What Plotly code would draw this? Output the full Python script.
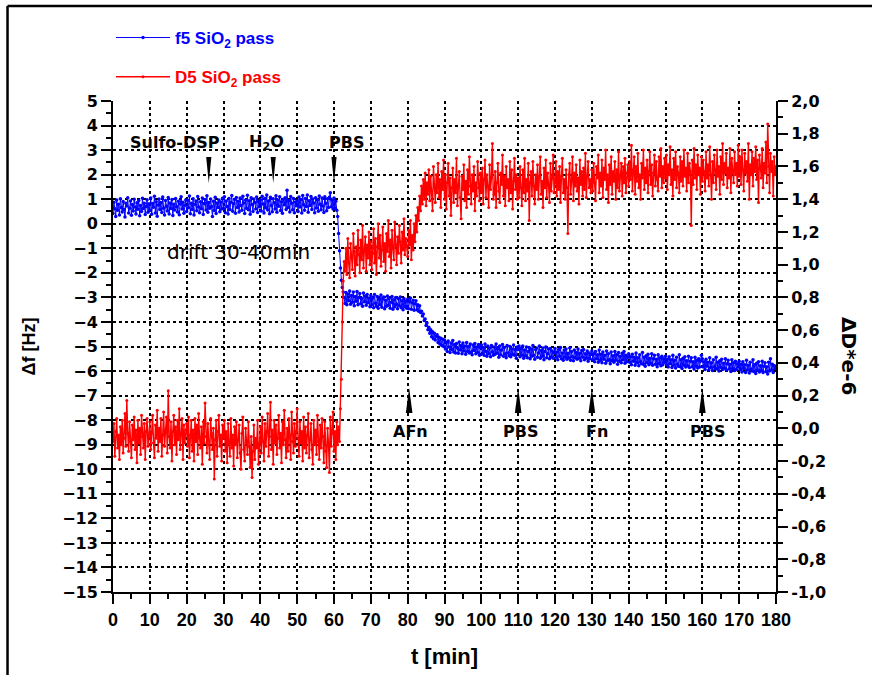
import plotly.graph_objects as go

# ---------------- data ----------------
TIME_STEP_MIN = 0.25  # sampling step of the values below [min]

# f5 SiO2 pass : frequency shift [Hz] (left axis)
F5_HZ = [
    # 0 - 10 min
    0.42, 0.88, 0.61, 0.30, 0.97, 0.55, 0.79, 0.36, 1.02, 0.66, 0.48, 0.91, 0.58, 0.27, 0.84, 0.72, 1.06, 0.44, 0.63, 0.93,
    0.35, 0.78, 0.52, 1.00, 0.68, 0.40, 0.86, 0.59, 0.95, 0.33, 0.74, 0.50, 1.04, 0.62, 0.83, 0.38, 0.70, 0.98, 0.47, 0.81,
    # 10 - 20
    0.55, 1.05, 0.39, 0.82, 0.67, 1.12, 0.44, 0.90, 0.31, 0.76, 1.01, 0.58, 0.87, 0.46, 1.09, 0.63, 0.36, 0.95, 0.71, 0.52,
    1.07, 0.40, 0.85, 0.62, 0.99, 0.34, 0.79, 0.56, 1.03, 0.69, 0.48, 0.92, 0.37, 0.80, 1.10, 0.60, 0.88, 0.43, 0.75, 0.97,
    # 20 - 30
    0.50, 0.96, 0.65, 1.13, 0.41, 0.84, 0.58, 1.02, 0.36, 0.79, 0.93, 0.53, 1.11, 0.68, 0.45, 0.90, 0.61, 1.05, 0.38, 0.82,
    0.99, 0.56, 1.14, 0.47, 0.87, 0.63, 1.01, 0.70, 0.30, 0.92, 0.54, 1.08, 0.42, 0.85, 0.66, 0.97, 0.49, 0.89, 0.60, 1.04,
    # 30 - 40
    0.62, 1.10, 0.45, 0.93, 0.70, 0.40, 1.03, 0.58, 0.88, 1.15, 0.51, 0.82, 0.99, 0.43, 1.07, 0.66, 0.92, 0.48, 1.05, 0.74,
    0.55, 1.12, 0.85, 0.42, 0.97, 0.63, 1.16, 0.57, 0.94, 0.39, 1.06, 0.78, 0.50, 1.01, 0.87, 0.60, 1.09, 0.46, 0.91, 0.69,
    # 40 - 50
    0.98, 0.52, 1.12, 0.80, 0.44, 1.04, 0.65, 1.17, 0.56, 0.93, 0.41, 1.08, 0.74, 0.49, 1.02, 0.86, 0.60, 1.14, 0.47, 0.97,
    0.71, 1.10, 0.54, 0.90, 0.43, 1.00, 0.77, 1.06, 0.58, 1.36, 0.66, 0.95, 0.48, 1.11, 0.83, 0.57, 1.03, 0.45, 0.89, 0.73,
    # 50 - 60
    0.93, 0.50, 1.09, 0.68, 0.99, 0.44, 1.15, 0.77, 0.55, 1.03, 0.70, 1.17, 0.47, 0.94, 0.74, 1.11, 0.58, 1.01, 0.85, 0.45,
    1.06, 0.64, 0.97, 0.51, 1.13, 0.79, 0.57, 1.05, 0.72, 0.46, 1.10, 0.84, 0.53, 1.02, 0.66, 1.08, 1.26, 0.69, 0.96, 0.60,
    # 60 - 70
    1.05, 0.63, 0.92, 0.55, 0.30, -0.40, -1.10, -1.80, -2.30, -2.60, -2.78, -3.00, -3.25, -2.80, -3.30, -2.86, -3.14, -2.74, -3.28, -2.92,
    -3.20, -2.78, -3.34, -2.96, -3.16, -2.76, -3.30, -3.00, -2.84, -3.26, -3.04, -3.36, -2.82, -3.18, -2.94, -3.32, -2.88, -3.22, -3.02, -3.38,
    # 70 - 80
    -2.92, -3.30, -3.02, -3.42, -2.88, -3.24, -3.36, -2.96, -3.44, -3.08, -3.30, -2.90, -3.40, -3.06, -2.98, -3.46, -3.12, -3.36, -2.94, -3.32,
    -3.04, -3.44, -3.20, -2.96, -3.48, -3.10, -3.38, -3.00, -3.28, -3.46, -3.06, -3.34, -2.98, -3.42, -3.14, -3.50, -3.04, -3.38, -3.16, -3.44,
    # 80 - 90
    -3.08, -3.46, -3.18, -3.02, -3.48, -3.22, -3.12, -3.52, -3.26, -3.14, -3.50, -3.30, -3.56, -3.34, -3.62, -3.56, -3.76, -3.68, -3.94, -3.88,
    -4.14, -4.04, -4.32, -4.22, -4.46, -4.32, -4.60, -4.40, -4.68, -4.46, -4.74, -4.58, -4.52, -4.84, -4.62, -4.90, -4.66, -4.96, -4.70, -5.00,
    # 90 - 100
    -4.74, -5.10, -4.84, -5.20, -4.78, -5.02, -5.24, -4.86, -5.12, -4.76, -5.22, -4.92, -5.26, -4.88, -5.06, -5.28, -4.82, -5.14, -4.96, -5.30,
    -4.86, -5.18, -4.98, -5.32, -4.84, -5.20, -5.00, -5.26, -4.90, -5.22, -5.34, -4.94, -5.16, -4.88, -5.30, -5.02, -5.24, -4.92, -5.36, -5.04,
    # 100 - 110
    -4.94, -5.28, -5.04, -5.36, -4.90, -5.20, -5.40, -4.98, -5.30, -5.06, -5.42, -4.96, -5.22, -5.36, -5.02, -5.32, -4.90, -5.28, -5.08, -5.44,
    -4.98, -5.34, -5.14, -4.92, -5.40, -5.04, -5.30, -5.46, -4.96, -5.26, -5.38, -5.00, -5.42, -5.10, -5.32, -4.94, -5.36, -5.12, -5.48, -5.02,
    # 110 - 120
    -5.12, -4.98, -5.42, -5.08, -5.36, -4.98, -5.48, -5.14, -5.38, -5.02, -5.46, -5.20, -5.04, -5.50, -5.10, -5.40, -4.96, -5.36, -5.52, -5.12,
    -5.06, -5.44, -5.26, -4.98, -5.48, -5.16, -5.40, -5.06, -5.54, -5.20, -5.02, -5.46, -5.30, -5.10, -5.50, -5.08, -5.42, -5.18, -5.48, -5.24,
    # 120 - 130
    -5.08, -5.44, -5.22, -5.54, -5.12, -5.40, -5.04, -5.50, -5.26, -5.56, -5.14, -5.44, -5.10, -5.52, -5.28, -5.46, -5.06, -5.56, -5.20, -5.42,
    -5.58, -5.14, -5.46, -5.24, -5.52, -5.10, -5.48, -5.28, -5.58, -5.16, -5.44, -5.12, -5.54, -5.30, -5.48, -5.18, -5.60, -5.26, -5.50, -5.32,
    # 130 - 140
    -5.18, -5.54, -5.30, -5.62, -5.20, -5.50, -5.34, -5.64, -5.14, -5.56, -5.32, -5.66, -5.22, -5.52, -5.36, -5.68, -5.18, -5.58, -5.30, -5.54,
    -5.70, -5.22, -5.58, -5.38, -5.64, -5.20, -5.56, -5.34, -5.72, -5.24, -5.60, -5.40, -5.66, -5.28, -5.54, -5.20, -5.68, -5.36, -5.62, -5.44,
    # 140 - 150
    -5.30, -5.64, -5.42, -5.74, -5.32, -5.60, -5.44, -5.76, -5.26, -5.66, -5.46, -5.78, -5.34, -5.62, -5.70, -5.24, -5.72, -5.44, -5.80, -5.38,
    -5.66, -5.32, -5.74, -5.48, -5.68, -5.30, -5.76, -5.50, -5.36, -5.72, -5.52, -5.82, -5.34, -5.70, -5.46, -5.78, -5.40, -5.74, -5.50, -5.64,
    # 150 - 160
    -5.40, -5.74, -5.52, -5.84, -5.42, -5.70, -5.54, -5.86, -5.36, -5.76, -5.56, -5.88, -5.44, -5.72, -5.80, -5.34, -5.82, -5.54, -5.90, -5.48,
    -5.76, -5.42, -5.84, -5.58, -5.78, -5.40, -5.86, -5.60, -5.46, -5.82, -5.62, -5.92, -5.44, -5.80, -5.56, -5.88, -5.50, -5.84, -5.60, -5.36,
    # 160 - 170
    -5.50, -5.84, -5.62, -5.94, -5.52, -5.80, -5.64, -5.96, -5.46, -5.86, -5.66, -5.98, -5.54, -5.82, -5.90, -5.44, -5.92, -5.64, -6.00, -5.58,
    -5.86, -5.52, -5.94, -5.68, -5.88, -5.50, -5.96, -5.70, -5.56, -5.92, -5.72, -6.02, -5.54, -5.90, -5.66, -5.98, -5.60, -5.94, -5.70, -5.84,
    # 170 - 180
    -5.60, -5.94, -5.72, -6.04, -5.62, -5.90, -5.74, -6.06, -5.56, -5.96, -5.76, -6.08, -5.64, -5.92, -6.00, -5.54, -6.02, -5.74, -6.10, -5.68,
    -5.96, -5.62, -6.04, -5.78, -5.98, -5.60, -6.06, -5.80, -5.66, -6.02, -5.82, -6.12, -5.64, -6.00, -5.50, -5.96, -5.72, -6.06, -5.78, -5.90,
    -5.80,
]

# D5 SiO2 pass : dissipation shift [1e-6] (right axis)
D5_E6 = [
    # 0 - 10 min
    -0.08, 0.03, -0.17, -0.02, 0.06, -0.12, -0.04, -0.19, 0.01, -0.10, 0.05, -0.15, -0.06, 0.09, -0.11, 0.17, -0.03, -0.14, 0.04, -0.08,
    -0.18, 0.02, -0.07, 0.07, -0.13, -0.01, -0.21, 0.05, -0.09, 0.00, -0.16, 0.08, -0.05, -0.12, 0.03, -0.19, -0.02, 0.06, -0.11, -0.04,
    # 10 - 20
    0.04, -0.13, -0.03, 0.08, -0.09, -0.18, 0.02, -0.06, 0.11, -0.14, 0.00, -0.08, 0.06, -0.17, -0.04, 0.10, -0.11, -0.01, 0.07, -0.15,
    0.23, -0.05, -0.12, 0.04, -0.20, -0.02, 0.08, -0.10, 0.01, -0.16, 0.05, -0.07, 0.12, -0.13, -0.03, 0.06, -0.19, 0.02, -0.09, -0.01,
    # 20 - 30
    0.03, -0.11, 0.07, -0.18, -0.04, 0.05, -0.14, -0.01, -0.20, 0.06, -0.08, 0.02, -0.16, 0.09, -0.06, -0.12, 0.01, -0.22, 0.04, -0.09,
    0.155, -0.05, -0.15, 0.03, -0.10, -0.19, 0.06, -0.03, -0.13, 0.00, -0.31, -0.07, 0.05, -0.17, -0.02, 0.08, -0.11, -0.04, -0.20, 0.02,
    # 30 - 40
    -0.06, 0.05, -0.14, -0.02, -0.21, 0.03, -0.09, -0.17, 0.06, -0.12, -0.04, -0.23, 0.01, -0.10, 0.04, -0.18, -0.07, 0.02, -0.15, -0.25,
    -0.03, 0.07, -0.13, -0.20, 0.00, -0.08, -0.16, 0.04, -0.11, -0.24, -0.05, -0.30, -0.14, 0.02, -0.19, -0.06, -0.12, 0.05, -0.22, -0.09,
    # 40 - 50
    0.01, -0.15, 0.07, -0.08, -0.20, 0.03, -0.11, -0.02, 0.09, -0.17, -0.05, 0.16, -0.13, -0.01, -0.22, 0.05, -0.09, 0.02, -0.16, -0.06,
    0.08, -0.12, -0.03, -0.21, 0.04, -0.10, 0.11, -0.07, -0.18, 0.00, -0.14, 0.06, -0.04, -0.19, 0.10, -0.08, -0.15, 0.03, -0.11, -0.02,
    # 50 - 60
    0.12, -0.06, -0.17, 0.04, -0.09, -0.02, -0.20, 0.07, -0.12, 0.01, -0.15, -0.04, 0.09, -0.18, -0.07, 0.03, -0.13, -0.22, 0.05, -0.10,
    -0.01, -0.16, 0.08, -0.08, -0.19, 0.02, -0.12, 0.06, -0.05, -0.21, 0.04, -0.14, -0.24, 0.00, -0.09, -0.27, 0.07, -0.11, -0.03, 0.10,
    # 60 - 70
    -0.14, -0.02, -0.19, 0.04, -0.10, 0.01, -0.08, 0.12, 0.30, 0.65, 0.90, 1.02, 0.96, 1.10, 0.94, 1.16, 1.01, 0.92, 1.13, 1.05,
    0.97, 1.19, 1.08, 0.93, 1.11, 1.00, 1.21, 1.06, 0.95, 1.15, 1.03, 1.24, 0.98, 1.09, 1.17, 0.96, 1.12, 1.04, 1.20, 1.00,
    # 70 - 80
    1.14, 0.97, 1.07, 1.22, 1.01, 1.16, 0.94, 1.11, 1.25, 1.04, 1.18, 0.99, 1.09, 1.23, 1.02, 1.13, 0.96, 1.19, 1.08, 1.27,
    1.05, 1.15, 0.98, 1.21, 1.10, 1.03, 1.26, 1.12, 1.00, 1.17, 1.07, 1.24, 1.14, 1.01, 1.20, 1.09, 1.28, 1.06, 1.16, 1.11,
    # 80 - 90
    1.05, 1.21, 1.12, 1.27, 1.03, 1.18, 1.09, 1.25, 1.14, 1.30, 1.20, 1.35, 1.27, 1.42, 1.33, 1.48, 1.37, 1.52, 1.40, 1.56,
    1.36, 1.50, 1.43, 1.58, 1.39, 1.54, 1.45, 1.33, 1.60, 1.47, 1.38, 1.55, 1.44, 1.62, 1.41, 1.52, 1.35, 1.57, 1.46, 1.64,
    # 90 - 100
    1.40, 1.55, 1.34, 1.50, 1.62, 1.42, 1.53, 1.30, 1.47, 1.59, 1.38, 1.52, 1.44, 1.65, 1.36, 1.49, 1.57, 1.41, 1.28, 1.54,
    1.46, 1.61, 1.39, 1.51, 1.35, 1.58, 1.43, 1.66, 1.48, 1.37, 1.55, 1.45, 1.60, 1.33, 1.50, 1.42, 1.63, 1.47, 1.39, 1.56,
    # 100 - 110
    1.44, 1.59, 1.37, 1.52, 1.64, 1.41, 1.55, 1.48, 1.35, 1.61, 1.46, 1.53, 1.74, 1.40, 1.43, 1.57, 1.35, 1.50, 1.62, 1.45,
    1.38, 1.56, 1.49, 1.67, 1.42, 1.54, 1.36, 1.60, 1.47, 1.52, 1.39, 1.63, 1.44, 1.58, 1.34, 1.51, 1.65, 1.46, 1.55, 1.40,
    # 110 - 120
    1.53, 1.41, 1.60, 1.47, 1.36, 1.58, 1.44, 1.65, 1.39, 1.52, 1.45, 1.62, 1.27, 1.50, 1.57, 1.42, 1.63, 1.48, 1.37, 1.55,
    1.46, 1.61, 1.40, 1.54, 1.66, 1.43, 1.51, 1.35, 1.59, 1.47, 1.64, 1.41, 1.56, 1.49, 1.38, 1.62, 1.45, 1.53, 1.67, 1.44,
    # 120 - 130
    1.50, 1.63, 1.42, 1.57, 1.46, 1.60, 1.38, 1.54, 1.65, 1.44, 1.52, 1.40, 1.58, 1.47, 1.19, 1.55, 1.62, 1.43, 1.51, 1.66,
    1.39, 1.56, 1.48, 1.61, 1.45, 1.53, 1.37, 1.64, 1.49, 1.57, 1.42, 1.59, 1.46, 1.68, 1.41, 1.54, 1.63, 1.47, 1.52, 1.44,
    # 130 - 140
    1.58, 1.45, 1.62, 1.50, 1.39, 1.60, 1.53, 1.67, 1.44, 1.56, 1.48, 1.64, 1.41, 1.59, 1.52, 1.70, 1.46, 1.55, 1.38, 1.61,
    1.49, 1.66, 1.43, 1.57, 1.51, 1.63, 1.40, 1.58, 1.47, 1.69, 1.45, 1.54, 1.62, 1.42, 1.60, 1.50, 1.65, 1.44, 1.56, 1.61,
    # 140 - 150
    1.48, 1.63, 1.52, 1.73, 1.45, 1.58, 1.66, 1.43, 1.60, 1.51, 1.68, 1.47, 1.55, 1.40, 1.62, 1.53, 1.70, 1.46, 1.59, 1.50,
    1.64, 1.44, 1.57, 1.69, 1.49, 1.61, 1.42, 1.56, 1.67, 1.48, 1.63, 1.52, 1.45, 1.66, 1.54, 1.71, 1.47, 1.60, 1.50, 1.65,
    # 150 - 160
    1.53, 1.67, 1.46, 1.61, 1.55, 1.72, 1.49, 1.58, 1.42, 1.65, 1.52, 1.69, 1.47, 1.60, 1.56, 1.44, 1.66, 1.51, 1.63, 1.48,
    1.70, 1.54, 1.59, 1.45, 1.68, 1.50, 1.62, 1.57, 1.24, 1.64, 1.49, 1.71, 1.53, 1.61, 1.46, 1.67, 1.55, 1.59, 1.43, 1.66,
    # 160 - 170
    1.51, 1.64, 1.57, 1.45, 1.69, 1.53, 1.61, 1.48, 1.72, 1.55, 1.40, 1.63, 1.50, 1.67, 1.58, 1.46, 1.70, 1.54, 1.60, 1.43,
    1.66, 1.52, 1.74, 1.49, 1.62, 1.56, 1.68, 1.47, 1.59, 1.53, 1.71, 1.44, 1.65, 1.57, 1.50, 1.69, 1.55, 1.62, 1.48, 1.73,
    # 170 - 180
    1.54, 1.66, 1.49, 1.70, 1.58, 1.45, 1.68, 1.56, 1.63, 1.51, 1.74, 1.40, 1.61, 1.55, 1.69, 1.48, 1.65, 1.57, 1.72, 1.52,
    1.64, 1.38, 1.67, 1.59, 1.53, 1.71, 1.47, 1.62, 1.56, 1.75, 1.50, 1.86, 1.60, 1.44, 1.68, 1.57, 1.63, 1.42, 1.66, 1.55,
    1.60,
]

SERIES_NAMES = ["f5 SiO<sub>2</sub> pass", "D5 SiO<sub>2</sub> pass"]
SERIES_COLORS = ["#0000ff", "#ff0000"]

X_TICKS = list(range(0, 181, 10))
Y_TICKS = list(range(-15, 6))
Y2_TICKS = [-1.0, -0.8, -0.6, -0.4, -0.2, 0.0, 0.2, 0.4, 0.6, 0.8, 1.0, 1.2, 1.4, 1.6, 1.8, 2.0]
Y2_TICKTEXT = ["-1,0", "-0,8", "-0,6", "-0,4", "-0,2", "0,0", "0,2", "0,4", "0,6", "0,8",
               "1,0", "1,2", "1,4", "1,6", "1,8", "2,0"]

# event markers: (label, arrow time, label time)
TOP_EVENTS = [("Sulfo-DSP", 26.0, 16.8), ("H<sub>2</sub>O", 43.5, 41.8), ("PBS", 60.0, 63.5)]
BOTTOM_EVENTS = [("AFn", 80.4, 80.9), ("PBS", 110.0, 110.6), ("Fn", 130.0, 131.4), ("PBS", 160.0, 161.4)]
DRIFT_NOTE = "drift 30-40min"

# ---------------- figure ----------------
t_f5 = [i * TIME_STEP_MIN for i in range(len(F5_HZ))]
t_d5 = [i * TIME_STEP_MIN for i in range(len(D5_E6))]

BOLD_ARIAL = dict(family="Liberation Sans, Arial, sans-serif", weight="bold", color="black")
BOLD_DEJAVU = dict(family="DejaVu Sans, sans-serif", weight="bold", color="black")

fig = go.Figure()
fig.add_trace(go.Scatter(
    x=t_f5, y=F5_HZ, mode="lines+markers", yaxis="y",
    name=f'<span style="color:{SERIES_COLORS[0]}">{SERIES_NAMES[0]}</span>',
    line=dict(color=SERIES_COLORS[0], width=1), marker=dict(color=SERIES_COLORS[0], size=3.5),
    legend="legend",
))
fig.add_trace(go.Scatter(
    x=t_d5, y=D5_E6, mode="lines+markers", yaxis="y2",
    name=f'<span style="color:{SERIES_COLORS[1]}">{SERIES_NAMES[1]}</span>',
    line=dict(color=SERIES_COLORS[1], width=1.4), marker=dict(color=SERIES_COLORS[1], size=3),
    legend="legend2",
))

axis_common = dict(
    ticks="outside", ticklen=10, tickwidth=2, tickcolor="black",
    showline=True, linewidth=2, linecolor="black", zeroline=False,
)

legend_common = dict(
    xanchor="left", yanchor="top", bgcolor="rgba(0,0,0,0)", itemwidth=54,
    font=dict(size=17, family="Liberation Sans, Arial, sans-serif", weight="bold"),
)

fig.update_layout(
    width=872, height=675,
    margin=dict(l=113, r=96, t=101, b=83, autoexpand=False),
    paper_bgcolor="white", plot_bgcolor="white",
    showlegend=True,
    xaxis=dict(
        range=[0, 180], tickvals=X_TICKS, **axis_common,
        showgrid=True, gridcolor="black", griddash="dot", gridwidth=1.5,
        tickfont=dict(size=18, **BOLD_ARIAL),
        minor=dict(dtick=5, tick0=0, ticks="outside", ticklen=5, tickwidth=2, tickcolor="black", showgrid=False),
        title=dict(text="t [min]", font=dict(size=22, **BOLD_ARIAL), standoff=20),
    ),
    yaxis=dict(
        range=[-15, 5], tickvals=Y_TICKS, **axis_common,
        showgrid=True, gridcolor="black", griddash="dot", gridwidth=1.5,
        tickfont=dict(size=16, **BOLD_DEJAVU),
        minor=dict(dtick=0.5, tick0=0, ticks="outside", ticklen=5, tickwidth=2, tickcolor="black", showgrid=False),
        title=dict(text="Δf [Hz]", font=dict(size=18, **BOLD_ARIAL), standoff=22),
    ),
    yaxis2=dict(
        range=[-1, 2], overlaying="y", side="right", anchor="x",
        tickvals=Y2_TICKS, ticktext=Y2_TICKTEXT, **axis_common,
        showgrid=False,
        tickfont=dict(size=16, **BOLD_DEJAVU),
        minor=dict(dtick=0.1, tick0=0, ticks="outside", ticklen=5, tickwidth=2, tickcolor="black", showgrid=False),
    ),
    legend=dict(x=-0.003, y=1.165, **legend_common),
    legend2=dict(x=-0.003, y=1.085, **legend_common),
)

annotations = []
shapes = []
for label, t_arrow, t_label in TOP_EVENTS:
    shapes.append(dict(type="path", xref="x", yref="y",
                       path=f"M {t_arrow - 0.7},2.72 L {t_arrow + 0.7},2.72 L {t_arrow},1.65 Z",
                       fillcolor="black", line=dict(width=0)))
    annotations.append(dict(x=t_label, y=3.33, xref="x", yref="y", text=label, showarrow=False,
                            font=dict(size=16, **BOLD_DEJAVU)))
for label, t_arrow, t_label in BOTTOM_EVENTS:
    shapes.append(dict(type="path", xref="x", yref="y",
                       path=f"M {t_arrow - 0.9},-7.71 L {t_arrow + 0.9},-7.71 L {t_arrow},-6.69 Z",
                       fillcolor="black", line=dict(width=0)))
    annotations.append(dict(x=t_label, y=-8.48, xref="x", yref="y", text=label, showarrow=False,
                            font=dict(size=16, **BOLD_DEJAVU)))

annotations.append(dict(x=34.2, y=-1.15, xref="x", yref="y", text=DRIFT_NOTE, showarrow=False,
                        font=dict(size=20, family="DejaVu Sans, sans-serif", color="black")))
annotations.append(dict(x=1.110, y=0.4807, xref="paper", yref="paper", text="ΔD*e-6", textangle=90,
                        xanchor="center", yanchor="middle",
                        showarrow=False, font=dict(size=20, **BOLD_DEJAVU)))

# outer frame (top and left edges of the picture border)
shapes.append(dict(type="line", xref="paper", yref="paper", x0=-0.1591, x1=1.15, y0=1.1935, y1=1.1935,
                   line=dict(color="black", width=2.5)))
shapes.append(dict(type="line", xref="paper", yref="paper", x0=-0.1591, x1=-0.1591, y0=1.1935, y1=-0.175,
                   line=dict(color="black", width=2.5)))

fig.update_layout(annotations=annotations, shapes=shapes)

fig.write_html("out.html")
